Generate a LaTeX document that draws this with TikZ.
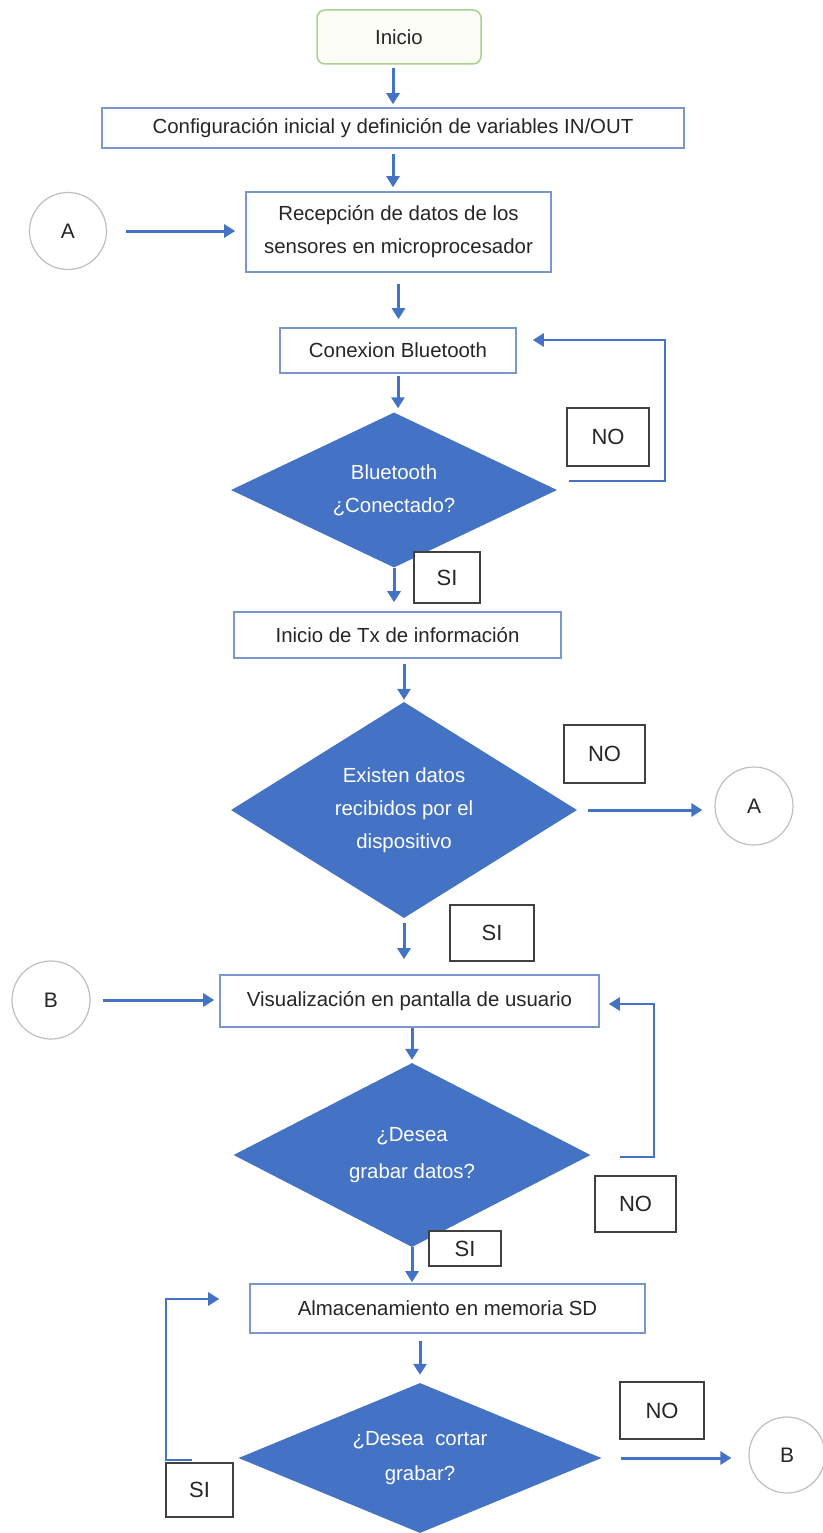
\documentclass[tikz,border=0pt]{standalone}
\usepackage{fontspec}
\setmainfont{Liberation Sans}
\usetikzlibrary{shapes.geometric,arrows.meta}
\definecolor{arrblue}{HTML}{4472C4}
\definecolor{boxblue}{HTML}{7A96CF}
\definecolor{txtgray}{HTML}{262626}
\definecolor{startgreen}{HTML}{A9D18E}
\definecolor{startfill}{HTML}{FBFDF6}
\definecolor{circgray}{HTML}{BFBFBF}
\definecolor{lblgray}{HTML}{404040}
\begin{document}
\begin{tikzpicture}[x=1pt,y=-1pt,
  font=\fontsize{20.4}{33}\selectfont,
  procbox/.style={draw=boxblue, line width=1.6pt, fill=white, text=txtgray, inner sep=0pt, align=center},
  startbox/.style={draw=startgreen, line width=1.5pt, rounded corners=8pt, fill=startfill, text=txtgray, inner sep=0pt},
  decision/.style={diamond, fill=arrblue, draw=none, text=white, inner sep=0pt, align=center},
  lbl/.style={draw=lblgray, line width=1.5pt, fill=white, text=txtgray, inner sep=0pt, font=\fontsize{22}{26}\selectfont},
  conn/.style={circle, draw=circgray, line width=1.2pt, fill=white, text=txtgray, inner sep=0pt, font=\fontsize{21}{25}\selectfont},
  arr/.style={draw=arrblue, line width=3pt, -{Triangle[length=11pt,width=13pt]}},
  loopline/.style={draw=arrblue, line width=2.6pt, -{Triangle[length=11pt,width=13pt]}}
]
\useasboundingbox (0,0) rectangle (822,1533);

% main column
\node[startbox, minimum width=164pt, minimum height=54pt] (inicio) at (399,37) {Inicio};
\node[procbox, minimum width=582pt, minimum height=40pt] (config) at (393,128) {Configuración inicial y definición de variables IN/OUT};
\node[procbox, minimum width=305pt, minimum height=80pt] (recep) at (398.5,232) {Recepción de datos de los\\sensores en microprocesador};
\node[procbox, minimum width=236pt, minimum height=45pt] (conex) at (398,350.5) {Conexion Bluetooth};
\node[decision, aspect=2.1, minimum width=326pt, minimum height=155pt] (d1) at (394,490) {Bluetooth\\¿Conectado?};
\node[procbox, minimum width=327pt, minimum height=46pt] (tx) at (397.5,635) {Inicio de Tx de información};
\node[decision, aspect=1.6, minimum width=346pt, minimum height=216pt] (d2) at (404,810) {Existen datos\\recibidos por el\\dispositivo};
\node[procbox, minimum width=379pt, minimum height=52pt] (visual) at (409.5,1001) {Visualización en pantalla de usuario};
\node[decision, aspect=1.94, minimum width=357pt, minimum height=184pt] (d3) at (412,1155) {¿Desea\\[4pt]grabar datos?};
\node[procbox, minimum width=395pt, minimum height=49pt] (alm) at (447.5,1308.5) {Almacenamiento en memoria SD};
\node[decision, aspect=2.42, minimum width=363pt, minimum height=150pt] (d4) at (420,1458) {¿Desea\ \ cortar\\[2pt]grabar?};

% connectors (circles)
\node[conn, minimum size=77pt] (a1) at (68,231) {A};
\node[conn, minimum size=78pt] (a2) at (754,806) {A};
\node[conn, minimum size=78pt] (b1) at (51,1000) {B};
\node[conn, minimum size=76pt] (b2) at (787,1455) {B};

% labels
\node[lbl, minimum width=82pt, minimum height=58pt] (no1) at (608,437) {NO};
\node[lbl, minimum width=66pt, minimum height=51pt] (si1) at (447,577.5) {SI};
\node[lbl, minimum width=81pt, minimum height=58pt] (no2) at (604.5,754) {NO};
\node[lbl, minimum width=84pt, minimum height=56pt] (si2) at (492,933) {SI};
\node[lbl, minimum width=81pt, minimum height=56pt] (no3) at (635.5,1204) {NO};
\node[lbl, minimum width=72pt, minimum height=35pt] (si3) at (465,1248.5) {SI};
\node[lbl, minimum width=84pt, minimum height=57pt] (no4) at (662,1410.5) {NO};
\node[lbl, minimum width=67pt, minimum height=54pt] (si4) at (199.5,1490) {SI};

% vertical arrows
\draw[arr, shorten <=3pt, shorten >=3pt] (inicio.south -| config.north) -- (config.north);
\draw[arr, shorten <=5pt, shorten >=4pt] (config.south) -- (config.south |- recep.north);
\draw[arr, shorten <=11pt, shorten >=8pt] (recep.south) -- (recep.south |- conex.north);
\draw[arr, shorten <=2pt, shorten >=4pt] (conex.south) -- (conex.south |- d1.north);
\draw[arr, shorten >=9pt] (d1.south) -- (d1.south |- tx.north);
\draw[arr, shorten <=5pt, shorten >=2pt] (tx.south -| d2.north) -- (d2.north);
\draw[arr, shorten <=5pt, shorten >=15pt] (d2.south) -- (d2.south |- visual.north);
\draw[arr, shorten >=3pt] (visual.south -| d3.north) -- (d3.north);
\draw[arr, shorten >=1pt] (d3.south) -- (d3.south |- alm.north);
\draw[arr, shorten <=7pt, shorten >=8pt] (alm.south -| d4.north) -- (d4.north);

% horizontal arrows
\draw[arr, shorten <=19pt, shorten >=10pt] (a1.east) -- (a1.east -| recep.west);
\draw[arr, shorten <=11pt, shorten >=12pt] (d2.east) -- (d2.east -| a2.west);
\draw[arr, shorten <=12pt, shorten >=5pt] (b1.east) -- (b1.east -| visual.west);
\draw[arr, shorten <=19pt, shorten >=17pt] (d4.east) -- (d4.east -| b2.west);

% loops
\coordinate (l1s) at ([xshift=12pt,yshift=9pt]d1.east);
\coordinate (l1c) at (665,340);
\coordinate (l1e) at ([xshift=16pt,yshift=10.5pt]conex.east);
\draw[loopline] (l1s) -| (l1c) -- (l1e);

\coordinate (l3s) at ([xshift=29pt,yshift=-2pt]d3.east);
\coordinate (l3c) at (654,1004);
\coordinate (l3e) at ([xshift=9pt,yshift=-3pt]visual.east);
\draw[loopline] (l3s) -| (l3c) -- (l3e);

\coordinate (l4s) at (192,1460);
\coordinate (l4c) at (166,1299);
\coordinate (l4e) at ([xshift=-30pt,yshift=9.5pt]alm.west);
\draw[loopline] (l4s) -| (l4c) -- (l4e);
\end{tikzpicture}
\end{document}
